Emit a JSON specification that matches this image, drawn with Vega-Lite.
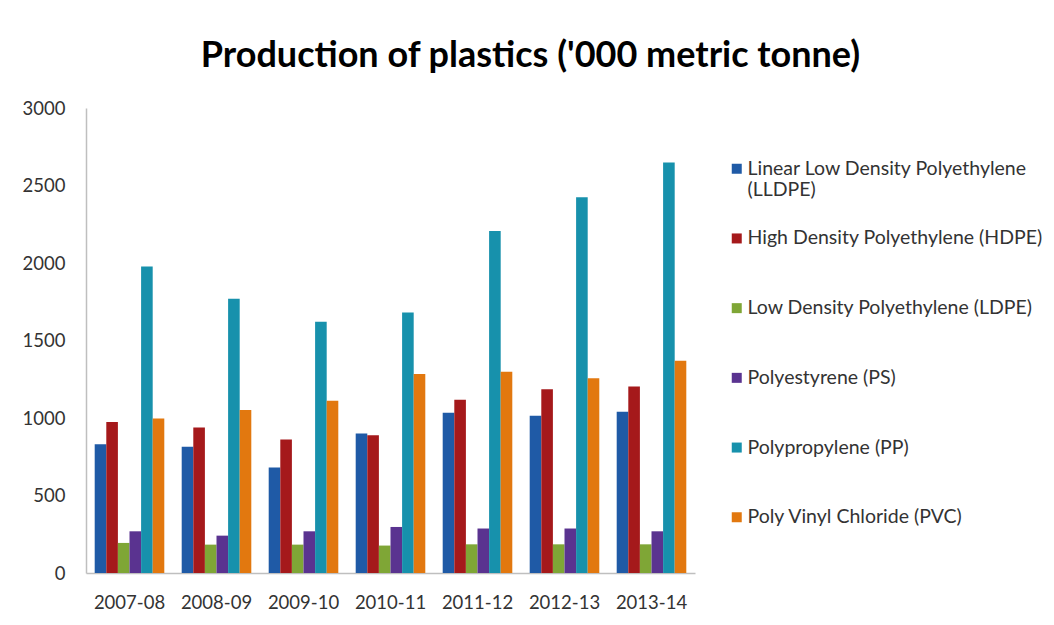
{
  "$schema": "https://vega.github.io/schema/vega-lite/v6.json",
  "autosize": {"type": "none"},
  "width": 609,
  "height": 465,
  "padding": {"left": 86, "top": 108, "right": 359, "bottom": 52},
  "background": "white",
  "title": {
    "text": "Production of plastics ('000 metric tonne)",
    "font": "Lato",
    "fontSize": 36,
    "fontWeight": "bold",
    "color": "#000000",
    "anchor": "middle",
    "baseline": "alphabetic",
    "dx": 140,
    "dy": 36,
    "offset": 32
  },
  "data": {
    "values": [
      {"year": "2007-08", "type": "Linear Low Density Polyethylene (LLDPE)", "value": 831},
      {"year": "2007-08", "type": "High Density Polyethylene (HDPE)", "value": 975},
      {"year": "2007-08", "type": "Low Density Polyethylene (LDPE)", "value": 194},
      {"year": "2007-08", "type": "Polyestyrene (PS)", "value": 269},
      {"year": "2007-08", "type": "Polypropylene (PP)", "value": 1977},
      {"year": "2007-08", "type": "Poly Vinyl Chloride (PVC)", "value": 997},
      {"year": "2008-09", "type": "Linear Low Density Polyethylene (LLDPE)", "value": 814},
      {"year": "2008-09", "type": "High Density Polyethylene (HDPE)", "value": 939},
      {"year": "2008-09", "type": "Low Density Polyethylene (LDPE)", "value": 183},
      {"year": "2008-09", "type": "Polyestyrene (PS)", "value": 241},
      {"year": "2008-09", "type": "Polypropylene (PP)", "value": 1770},
      {"year": "2008-09", "type": "Poly Vinyl Chloride (PVC)", "value": 1051},
      {"year": "2009-10", "type": "Linear Low Density Polyethylene (LLDPE)", "value": 681},
      {"year": "2009-10", "type": "High Density Polyethylene (HDPE)", "value": 862},
      {"year": "2009-10", "type": "Low Density Polyethylene (LDPE)", "value": 183},
      {"year": "2009-10", "type": "Polyestyrene (PS)", "value": 269},
      {"year": "2009-10", "type": "Polypropylene (PP)", "value": 1621},
      {"year": "2009-10", "type": "Poly Vinyl Chloride (PVC)", "value": 1111},
      {"year": "2010-11", "type": "Linear Low Density Polyethylene (LLDPE)", "value": 900},
      {"year": "2010-11", "type": "High Density Polyethylene (HDPE)", "value": 888},
      {"year": "2010-11", "type": "Low Density Polyethylene (LDPE)", "value": 177},
      {"year": "2010-11", "type": "Polyestyrene (PS)", "value": 297},
      {"year": "2010-11", "type": "Polypropylene (PP)", "value": 1680},
      {"year": "2010-11", "type": "Poly Vinyl Chloride (PVC)", "value": 1284},
      {"year": "2011-12", "type": "Linear Low Density Polyethylene (LLDPE)", "value": 1034},
      {"year": "2011-12", "type": "High Density Polyethylene (HDPE)", "value": 1118},
      {"year": "2011-12", "type": "Low Density Polyethylene (LDPE)", "value": 185},
      {"year": "2011-12", "type": "Polyestyrene (PS)", "value": 287},
      {"year": "2011-12", "type": "Polypropylene (PP)", "value": 2207},
      {"year": "2011-12", "type": "Poly Vinyl Chloride (PVC)", "value": 1298},
      {"year": "2012-13", "type": "Linear Low Density Polyethylene (LLDPE)", "value": 1014},
      {"year": "2012-13", "type": "High Density Polyethylene (HDPE)", "value": 1185},
      {"year": "2012-13", "type": "Low Density Polyethylene (LDPE)", "value": 185},
      {"year": "2012-13", "type": "Polyestyrene (PS)", "value": 287},
      {"year": "2012-13", "type": "Polypropylene (PP)", "value": 2425},
      {"year": "2012-13", "type": "Poly Vinyl Chloride (PVC)", "value": 1256},
      {"year": "2013-14", "type": "Linear Low Density Polyethylene (LLDPE)", "value": 1040},
      {"year": "2013-14", "type": "High Density Polyethylene (HDPE)", "value": 1204},
      {"year": "2013-14", "type": "Low Density Polyethylene (LDPE)", "value": 185},
      {"year": "2013-14", "type": "Polyestyrene (PS)", "value": 269},
      {"year": "2013-14", "type": "Polypropylene (PP)", "value": 2649},
      {"year": "2013-14", "type": "Poly Vinyl Chloride (PVC)", "value": 1370}
    ]
  },
  "mark": {"type": "bar"},
  "encoding": {
    "x": {
      "field": "year",
      "type": "nominal",
      "scale": {"paddingInner": 0.2, "paddingOuter": 0.1},
      "axis": {
        "title": null,
        "labelAngle": 0,
        "labelFont": "Lato",
        "labelFontSize": 18.5,
        "labelColor": "#333333",
        "ticks": false,
        "labelPadding": 20,
        "domainColor": "#BFBFBF",
        "domainWidth": 1.5
      }
    },
    "xOffset": {
      "field": "type",
      "type": "nominal",
      "scale": {
        "domain": [
          "Linear Low Density Polyethylene (LLDPE)",
          "High Density Polyethylene (HDPE)",
          "Low Density Polyethylene (LDPE)",
          "Polyestyrene (PS)",
          "Polypropylene (PP)",
          "Poly Vinyl Chloride (PVC)"
        ],
        "paddingInner": 0,
        "paddingOuter": 0
      }
    },
    "y": {
      "field": "value",
      "type": "quantitative",
      "scale": {"domain": [0, 3000], "nice": false},
      "axis": {
        "title": null,
        "values": [0, 500, 1000, 1500, 2000, 2500, 3000],
        "format": "d",
        "grid": false,
        "ticks": false,
        "labelPadding": 21,
        "labelFont": "Lato",
        "labelFontSize": 18.5,
        "labelColor": "#333333",
        "domainColor": "#BFBFBF",
        "domainWidth": 1.5
      }
    },
    "color": {
      "field": "type",
      "type": "nominal",
      "scale": {
        "domain": [
          "Linear Low Density Polyethylene (LLDPE)",
          "High Density Polyethylene (HDPE)",
          "Low Density Polyethylene (LDPE)",
          "Polyestyrene (PS)",
          "Polypropylene (PP)",
          "Poly Vinyl Chloride (PVC)"
        ],
        "range": ["#1F5AA6", "#A5191B", "#7FA636", "#5A3390", "#1791AC", "#E2780F"]
      },
      "legend": {
        "title": null,
        "orient": "none",
        "legendX": 641,
        "legendY": 51,
        "padding": 0,
        "symbolType": "square",
        "symbolSize": 100,
        "symbolStrokeWidth": 0,
        "labelFont": "Lato",
        "labelFontSize": 19.5,
        "labelColor": "#333333",
        "labelOffset": 1,
        "labelLimit": 400,
        "rowPadding": 27.7,
        "labelExpr": "datum.label == 'Linear Low Density Polyethylene (LLDPE)' ? ['Linear Low Density Polyethylene', '(LLDPE)'] : [datum.label, '']",
        "labelBaseline": "middle"
      }
    }
  },
  "config": {"view": {"stroke": null}}
}
